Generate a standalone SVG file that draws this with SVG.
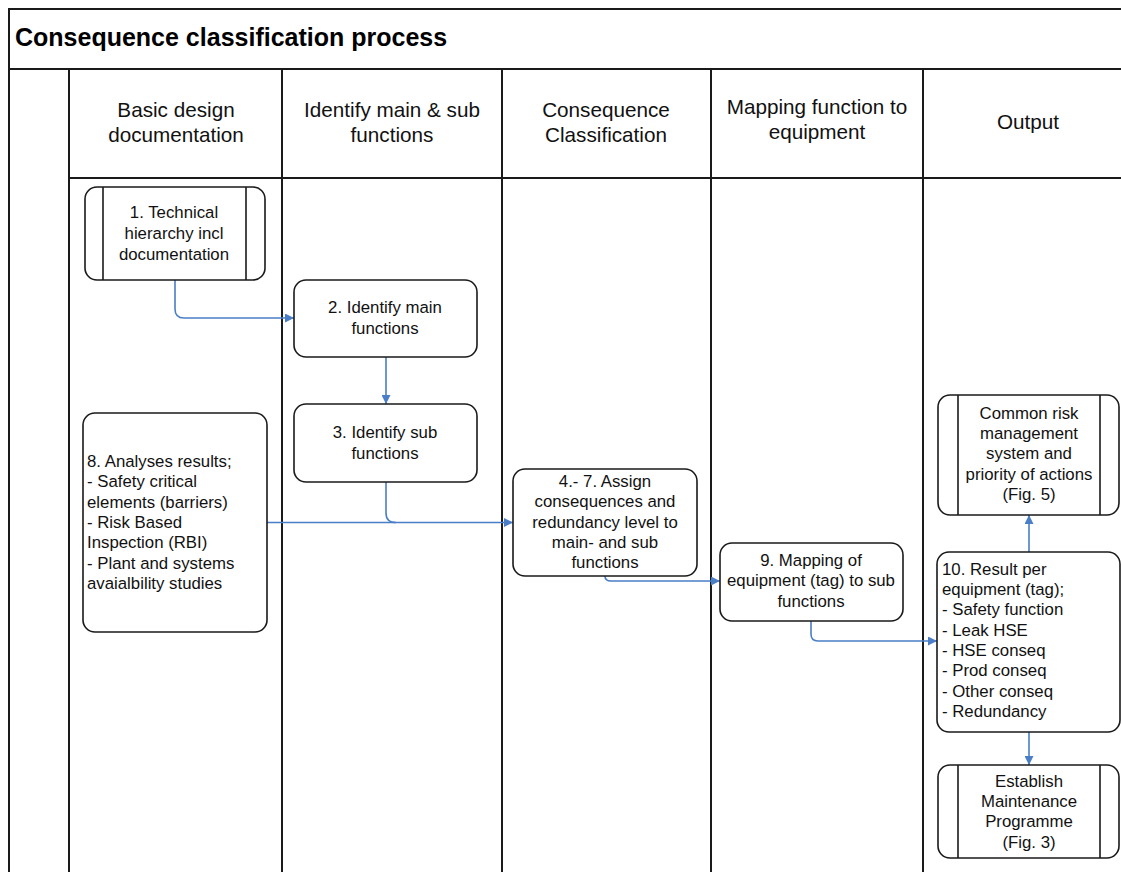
<svg xmlns="http://www.w3.org/2000/svg" width="1121" height="872" viewBox="0 0 1121 872">
<style>
.grid{stroke:#1a1a1a;stroke-width:2;fill:none}
.box{fill:#fff;stroke:#1a1a1a;stroke-width:1.6}
.bar{stroke:#1a1a1a;stroke-width:1.6}
.t{font-family:"Liberation Sans",Arial,sans-serif;font-size:16.8px;fill:#111}
.c{text-anchor:middle}
.h{font-family:"Liberation Sans",Arial,sans-serif;font-size:20.7px;fill:#111;text-anchor:middle}
.title{font-family:"Liberation Sans",Arial,sans-serif;font-size:25px;font-weight:bold;fill:#000}
.conn{fill:none;stroke:#4a7ec6;stroke-width:1.6}
</style>
<defs>
<marker id="arr" viewBox="0 0 10 10" refX="10" refY="5" markerWidth="10" markerHeight="9" markerUnits="userSpaceOnUse" orient="auto">
<path d="M0,0 L10,5 L0,10 z" fill="#4a7ec6"/>
</marker>
</defs>
<rect width="1121" height="872" fill="#fff"/>
<g id="grid">
<path class="grid" d="M9,872 V9 H1121 M9,69 H1121 M69,178 H1121 M69,69 V872 M282,69 V872 M502,69 V872 M711,69 V872 M923,69 V872"/>
<text class="title" x="15" y="46">Consequence classification process</text>
<text class="h" x="176" y="117">Basic design</text>
<text class="h" x="176" y="142">documentation</text>
<text class="h" x="392" y="117">Identify main &amp; sub</text>
<text class="h" x="392" y="142">functions</text>
<text class="h" x="606" y="117">Consequence</text>
<text class="h" x="606" y="142">Classification</text>
<text class="h" x="817" y="114">Mapping function to</text>
<text class="h" x="817" y="139">equipment</text>
<text class="h" x="1028" y="129">Output</text>
</g>
<g id="connectors">
<path class="conn" marker-end="url(#arr)" d="M175,280 V309 Q175,318 184,318 H294"/>
<path class="conn" marker-end="url(#arr)" d="M386,357 V404"/>
<path class="conn" d="M386,482 V513 Q386,522.5 396,522.5"/>
<path class="conn" marker-end="url(#arr)" d="M267,522.5 H513"/>
<path class="conn" marker-end="url(#arr)" d="M605,576 Q605,581 611,581 H720"/>
<path class="conn" marker-end="url(#arr)" d="M811,621 V634 Q811,641 818,641 H937"/>
<path class="conn" marker-end="url(#arr)" d="M1029,552 V515"/>
<path class="conn" marker-end="url(#arr)" d="M1029,732 V765"/>
</g>
<g id="n1">
<rect class="box" x="85" y="187" width="180" height="93" rx="12"/>
<path class="bar" d="M103,187 V280 M246,187 V280"/>
<text class="t c" x="174" y="218">1. Technical</text>
<text class="t c" x="174" y="239">hierarchy incl</text>
<text class="t c" x="174" y="260">documentation</text>
</g>
<g id="n2">
<rect class="box" x="294" y="280" width="183" height="77" rx="12"/>
<text class="t c" x="385" y="313">2. Identify main</text>
<text class="t c" x="385" y="334">functions</text>
</g>
<g id="n3">
<rect class="box" x="294" y="404" width="183" height="78" rx="12"/>
<text class="t c" x="385" y="438">3. Identify sub</text>
<text class="t c" x="385" y="459">functions</text>
</g>
<g id="n8">
<rect class="box" x="83" y="413" width="184" height="219" rx="12"/>
<text class="t" x="87" y="467">8. Analyses results;</text>
<text class="t" x="87" y="487">- Safety critical</text>
<text class="t" x="87" y="508">elements (barriers)</text>
<text class="t" x="87" y="528">- Risk Based</text>
<text class="t" x="87" y="548">Inspection (RBI)</text>
<text class="t" x="87" y="569">- Plant and systems</text>
<text class="t" x="87" y="589">avaialbility studies</text>
</g>
<g id="n4">
<rect class="box" x="513" y="469" width="184" height="107" rx="12"/>
<text class="t c" x="605" y="487">4.- 7. Assign</text>
<text class="t c" x="605" y="507">consequences and</text>
<text class="t c" x="605" y="528">redundancy level to</text>
<text class="t c" x="605" y="548">main- and sub</text>
<text class="t c" x="605" y="568">functions</text>
</g>
<g id="n9">
<rect class="box" x="720" y="543" width="183" height="78" rx="12"/>
<text class="t c" x="811" y="566">9. Mapping of</text>
<text class="t c" x="811" y="586">equipment (tag) to sub</text>
<text class="t c" x="811" y="607">functions</text>
</g>
<g id="n_common">
<rect class="box" x="938" y="395" width="181" height="120" rx="12"/>
<path class="bar" d="M958,395 V515 M1100,395 V515"/>
<text class="t c" x="1029" y="419">Common risk</text>
<text class="t c" x="1029" y="439">management</text>
<text class="t c" x="1029" y="459">system and</text>
<text class="t c" x="1029" y="480">priority of actions</text>
<text class="t c" x="1029" y="500">(Fig. 5)</text>
</g>
<g id="n10">
<rect class="box" x="937" y="552" width="183" height="180" rx="12"/>
<text class="t" x="942" y="575">10. Result per</text>
<text class="t" x="942" y="595">equipment (tag);</text>
<text class="t" x="942" y="615">- Safety function</text>
<text class="t" x="942" y="636">- Leak HSE</text>
<text class="t" x="942" y="656">- HSE conseq</text>
<text class="t" x="942" y="676">- Prod conseq</text>
<text class="t" x="942" y="697">- Other conseq</text>
<text class="t" x="942" y="717">- Redundancy</text>
</g>
<g id="n_establish">
<rect class="box" x="938" y="765" width="181" height="93" rx="12"/>
<path class="bar" d="M958,765 V858 M1100,765 V858"/>
<text class="t c" x="1029" y="787">Establish</text>
<text class="t c" x="1029" y="807">Maintenance</text>
<text class="t c" x="1029" y="827">Programme</text>
<text class="t c" x="1029" y="848">(Fig. 3)</text>
</g>
</svg>
